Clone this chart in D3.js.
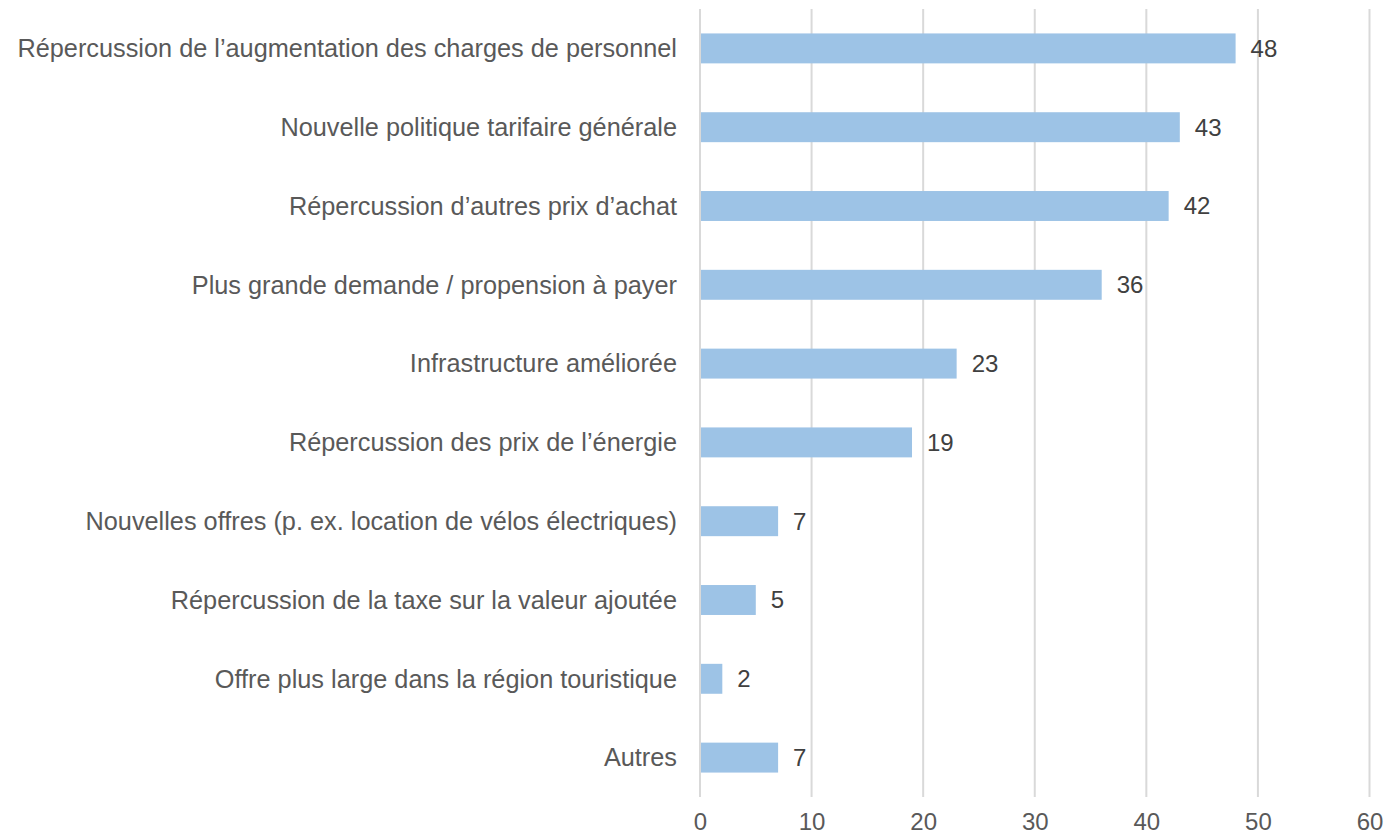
<!DOCTYPE html>
<html>
<head>
<meta charset="utf-8">
<script src="https://cdn.jsdelivr.net/npm/d3@7"></script>
<style>
  body { margin: 0; background: #fff; }
  svg { display: block; font-family: "Liberation Sans", Arial, sans-serif; }
</style>
</head>
<body>
<svg width="1384" height="836"></svg>
<script>
var categories = [
  "Répercussion de l\u2019augmentation des charges de personnel",
  "Nouvelle politique tarifaire générale",
  "Répercussion d\u2019autres prix d\u2019achat",
  "Plus grande demande / propension à payer",
  "Infrastructure améliorée",
  "Répercussion des prix de l\u2019énergie",
  "Nouvelles offres (p. ex. location de vélos électriques)",
  "Répercussion de la taxe sur la valeur ajoutée",
  "Offre plus large dans la région touristique",
  "Autres"
];
var values = [48, 43, 42, 36, 23, 19, 7, 5, 2, 7];
var tickValues = [0, 10, 20, 30, 40, 50, 60];

var svg = d3.select("svg");

var x = d3.scaleLinear()
    .domain([0, 60])
    .range([700, 1369.5]);

var y = d3.scaleBand()
    .domain(categories)
    .range([9, 797])
    .paddingInner(0.62)
    .paddingOuter(0.31);

// grid lines
svg.append("g")
  .selectAll("line")
  .data(tickValues)
  .enter().append("line")
    .attr("x1", function(d) { return x(d); })
    .attr("x2", function(d) { return x(d); })
    .attr("y1", 9)
    .attr("y2", 797)
    .attr("stroke", "#d9d9d9")
    .attr("stroke-width", 2);

// x axis labels
var xAxis = svg.append("g")
    .attr("transform", "translate(0,797)")
    .call(d3.axisBottom(x).tickValues(tickValues).tickSize(0).tickPadding(16));
xAxis.select(".domain").remove();
xAxis.selectAll("text")
    .attr("font-family", "Liberation Sans, Arial, sans-serif")
    .attr("font-size", 24)
    .attr("fill", "#595959");

// bars
svg.append("g")
  .selectAll("rect")
  .data(values)
  .enter().append("rect")
    .attr("x", x(0) + 1)
    .attr("y", function(d, i) { return y(categories[i]); })
    .attr("width", function(d) { return x(d) - x(0) - 1; })
    .attr("height", y.bandwidth())
    .attr("fill", "#9dc3e6");

// value labels
svg.append("g")
  .selectAll("text")
  .data(values)
  .enter().append("text")
    .attr("x", function(d) { return x(d) + 15; })
    .attr("y", function(d, i) { return y(categories[i]) + y.bandwidth() / 2; })
    .attr("dy", "0.35em")
    .attr("font-size", 24)
    .attr("fill", "#404040")
    .text(function(d) { return d; });

// category labels
svg.append("g")
  .selectAll("text")
  .data(categories)
  .enter().append("text")
    .attr("x", 677)
    .attr("y", function(d) { return y(d) + y.bandwidth() / 2; })
    .attr("dy", "0.35em")
    .attr("text-anchor", "end")
    .attr("font-size", 25.3)
    .attr("fill", "#595959")
    .text(function(d) { return d; });
</script>
</body>
</html>
